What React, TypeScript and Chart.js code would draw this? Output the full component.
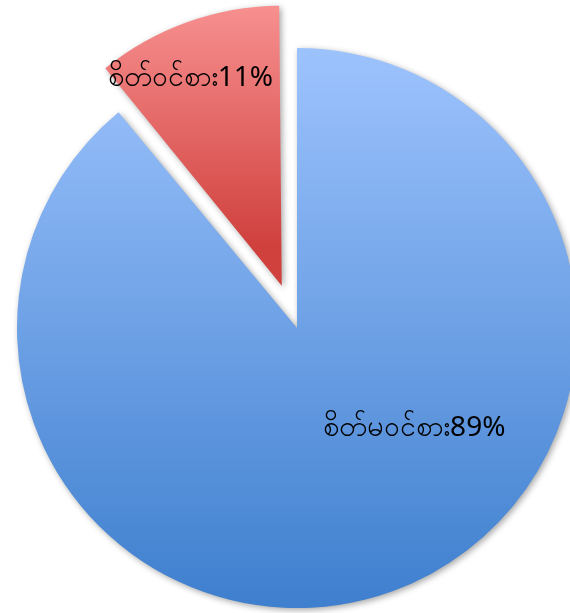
import React, { useEffect, useRef } from "react";
import { Chart, registerables } from "chart.js";

Chart.register(...registerables);

const categories = ["စိတ်မဝင်စား", "စိတ်ဝင်စား"];
const values = [89, 11];
const percentLabels = ["89%", "11%"];
const sliceOffsets = [0, 45];
const topColors = ["#9DC3FD", "#FE9E9E"];
const bottomColors = ["#3E7FCE", "#D0413E"];
// label placement within each slice: fraction along the arc, fraction of radius
const labelArcFrac = [0.407, 0.4];
const labelRadFrac = [0.55, 0.81];

const RADIUS = 280;

export default function App() {
  const ref = useRef<HTMLCanvasElement | null>(null);

  useEffect(() => {
    if (!ref.current) return;
    const total = values.reduce((a, b) => a + b, 0);
    const sliceGeom = (i: number, area: any) => {
      const cx = (area.left + area.right) / 2;
      const cy = (area.top + area.bottom) / 2;
      let start = -Math.PI / 2;
      for (let k = 0; k < i; k++) start += (values[k] / total) * Math.PI * 2;
      const end = start + (values[i] / total) * Math.PI * 2;
      const mid = (start + end) / 2;
      const ox = Math.cos(mid) * sliceOffsets[i];
      const oy = Math.sin(mid) * sliceOffsets[i];
      return { cx: cx + ox, cy: cy + oy, start, end };
    };

    // Chart.js enlarges an offset arc's radius by offset*(1-sin(circumference));
    // compensate so exploded slices keep the same radius as the rest.
    const radiusFixPlugin = {
      id: "radiusFix",
      afterDatasetsUpdate(chart: any) {
        const meta = chart.getDatasetMeta(0);
        meta.data.forEach((arc: any, i: number) => {
          const circ = arc.circumference;
          const fix = 1 - Math.sin(Math.min(Math.PI, circ || 0));
          arc.outerRadius = RADIUS - sliceOffsets[i] * fix;
        });
      },
    };

    const shadowPlugin = {
      id: "shadow",
      beforeDatasetsDraw(chart: any) {
        const ctx = chart.ctx;
        ctx.save();
        ctx.shadowColor = "rgba(0,0,0,0.35)";
        ctx.shadowBlur = 6;
        ctx.shadowOffsetX = 2;
        ctx.shadowOffsetY = 2;
      },
      afterDatasetsDraw(chart: any) {
        chart.ctx.restore();
      },
    };

    const labelPlugin = {
      id: "sliceLabels",
      afterDatasetsDraw(chart: any) {
        const ctx = chart.ctx;
        const meta = chart.getDatasetMeta(0);
        ctx.save();
        ctx.fillStyle = "#000000";
        ctx.font = '28px "Noto Sans", "DejaVu Sans", sans-serif';
        ctx.textAlign = "center";
        ctx.textBaseline = "middle";
        meta.data.forEach((arc: any, i: number) => {
          const p = arc.getProps(["x", "y", "startAngle", "endAngle"], true);
          const mid = (p.startAngle + p.endAngle) / 2;
          const cx = p.x + Math.cos(mid) * sliceOffsets[i];
          const cy = p.y + Math.sin(mid) * sliceOffsets[i];
          const a = p.startAngle + labelArcFrac[i] * (p.endAngle - p.startAngle);
          const r = RADIUS * labelRadFrac[i];
          ctx.fillText(categories[i] + percentLabels[i], cx + Math.cos(a) * r, cy + Math.sin(a) * r);
        });
        ctx.restore();
      },
    };

    const chart = new Chart(ref.current, {
      type: "pie",
      data: {
        labels: categories,
        datasets: [
          {
            data: values,
            // Chart.js arcs translate by offset/4
            offset: sliceOffsets.map((o) => o * 4),
            radius: RADIUS,
            borderWidth: 0,
            clip: false,
            backgroundColor: (context: any) => {
              const c = context.chart;
              const area = c.chartArea;
              const i = context.dataIndex;
              if (!area) return topColors[i];
              const g = sliceGeom(i, area);
              const y0 = g.cy - RADIUS;
              const y1 = i === 0 ? g.cy + RADIUS : g.cy;
              const grad = c.ctx.createLinearGradient(0, y0, 0, y1);
              grad.addColorStop(0, topColors[i]);
              grad.addColorStop(1, bottomColors[i]);
              return grad;
            },
          } as any,
        ],
      },
      options: {
        responsive: false,
        animation: false,
        layout: { padding: { left: 24, top: 43, right: 0, bottom: 0 } },
        plugins: {
          legend: { display: false },
          tooltip: { enabled: false },
          title: { display: false },
        },
      },
      plugins: [radiusFixPlugin, shadowPlugin, labelPlugin],
    });
    return () => chart.destroy();
  }, []);

  return (
    <div style={{ position: "fixed", left: 0, top: 0, width: 570, height: 613, background: "#ffffff" }}>
      <canvas ref={ref} width={570} height={613} style={{ display: "block" }} />
    </div>
  );
}
